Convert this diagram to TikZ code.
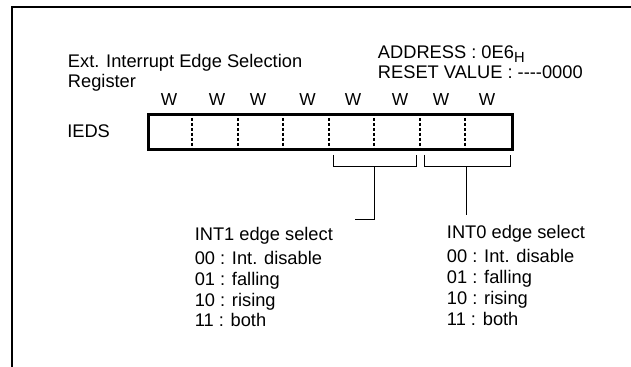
\documentclass[tikz,border=0pt]{standalone}
\usepackage{fontspec}
\newfontfamily\arial{Liberation Sans}
\begin{document}
\begin{tikzpicture}[x=0.75pt,y=-0.75pt,
  txt/.style={inner sep=0,anchor=base west,font=\arial\fontsize{13.7}{16}\selectfont},
  wlab/.style={inner sep=0,anchor=base,font=\arial\fontsize{13}{16}\selectfont},
  regbox/.style={draw,line width=2.25pt,inner sep=0,minimum width=272.8pt,minimum height=26.5pt,anchor=north west},
  divider/.style={line width=1.5pt,dash pattern=on 2.2pt off 1.5pt},
  thinline/.style={line width=0.75pt}]
\useasboundingbox (0,0) rectangle (631,367);
% frame
\draw[line width=1.5pt] (631,7.2) -- (11.7,7.2) -- (11.7,367);
% titles
\node[txt] (title1) at (67.7,67.7) {Ext. Interrupt Edge Selection};
\node[txt] (title2) at (67.7,87.7) {Register};
\node[txt] (addr) at (377.7,58.3) {ADDRESS : 0E6\raisebox{-3pt}{\fontsize{11}{11}\selectfont H}};
\node[txt] (reset) at (377.7,78.3) {RESET VALUE : ----0000};
% W labels
\foreach \x [count=\i] in {169,217,258,307.5,353,400,441,487}
  \node[wlab] (w\i) at (\x,105.7) {W};
% register
\node[txt] (ieds) at (67,137.7) {IEDS};
\node[regbox] (reg) at (147,113) {};
\foreach \i in {1,...,7}
  \draw[divider] (147+\i*45.46,113) -- (147+\i*45.46,148.3);
% brackets
\coordinate (b1l) at (333.3,155);
\coordinate (b1r) at (416,155);
\coordinate (b1m) at (374.7,166);
\coordinate (b1e) at (374.7,219);
\coordinate (b1f) at (355,219);
\draw[thinline] (b1l) -- (333.3,166) -- (416,166) -- (b1r);
\draw[thinline] (b1m) -- (b1e) -- (b1f);
\coordinate (b0l) at (424.3,155);
\coordinate (b0r) at (510.7,155);
\coordinate (b0m) at (466,166);
\coordinate (b0e) at (466,215);
\draw[thinline] (b0l) -- (424.3,166) -- (510.7,166) -- (b0r);
\draw[thinline] (b0m) -- (b0e);
% INT1 text
\node[txt] (i1h) at (194.5,240) {INT1 edge select};
\node[txt] (i1a) at (194.5,264) {00 : Int. disable};
\node[txt] (i1b) at (194.5,285) {01 : falling};
\node[txt] (i1c) at (194.5,306) {10 : rising};
\node[txt] (i1d) at (194.5,326.7) {11 : both};
% INT0 text
\node[txt] (i0h) at (446.7,238.3) {INT0 edge select};
\node[txt] (i0a) at (446.7,262.7) {00 : Int. disable};
\node[txt] (i0b) at (446.7,283.3) {01 : falling};
\node[txt] (i0c) at (446.7,304) {10 : rising};
\node[txt] (i0d) at (446.7,325) {11 : both};
\end{tikzpicture}
\end{document}
